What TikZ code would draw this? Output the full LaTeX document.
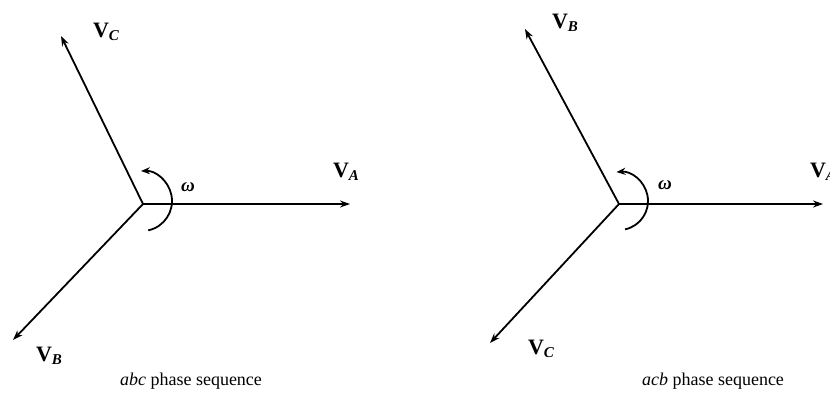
\documentclass[tikz,border=0pt]{standalone}
\usepackage{fontspec}
\setmainfont{Liberation Serif}
\usetikzlibrary{arrows.meta}
\tikzset{
  phasor/.style={line width=1.8pt,-{Stealth[length=10pt,width=7pt]}},
  rot/.style={line width=1.8pt,-{Stealth[length=9pt,width=7pt]}},
  vlab/.style={font=\fontsize{22}{24}\selectfont\bfseries, inner sep=0pt},
  wlab/.style={font=\fontsize{19}{20}\selectfont\bfseries\itshape, inner sep=0pt},
  captext/.style={font=\fontsize{18}{19}\selectfont, inner sep=0pt, anchor=base}
}
\newcommand{\phv}[1]{V\raisebox{-0.35ex}{\fontsize{15}{16}\selectfont\bfseries\itshape #1}}
\begin{document}
\begin{tikzpicture}[x=1pt,y=1pt]
\clip (0,0) rectangle (830,392);
\fill[white] (0,0) rectangle (830,392);
% left diagram
\coordinate (O1) at (143,188);
\coordinate (A1) at (350,188);
\coordinate (C1) at (61,356);
\coordinate (B1) at (13,52);
\draw[phasor] (O1) -- (A1);
\draw[phasor] (O1) -- (C1);
\draw[phasor] (O1) -- (B1);
\coordinate (R1) at (142,191);
\draw[rot] ([shift={(-78:30)}]R1) arc[start angle=-78, end angle=92, radius=30];
\node[vlab] (lA1) at (346,220) {\phv{A}};
\node[vlab] (lC1) at (106,360) {\phv{C}};
\node[vlab] (lB1) at (49,36) {\phv{B}};
\node[wlab] (w1) at (188,205) {ω};
\node[captext] (cap1) at (191,7) {\textit{abc} phase sequence};
% right diagram
\coordinate (O2) at (619,188);
\coordinate (A2) at (823,188);
\coordinate (B2) at (525,363);
\coordinate (C2) at (490,49);
\draw[phasor] (O2) -- (A2);
\draw[phasor] (O2) -- (B2);
\draw[phasor] (O2) -- (C2);
\coordinate (R2) at (619,191);
\draw[rot] ([shift={(-78:29)}]R2) arc[start angle=-78, end angle=95, radius=29];
\node[vlab] (lA2) at (823,220) {\phv{A}};
\node[vlab] (lB2) at (565,369) {\phv{B}};
\node[vlab] (lC2) at (541,43) {\phv{C}};
\node[wlab] (w2) at (665,207) {ω};
\node[captext] (cap2) at (713,7) {\textit{acb} phase sequence};
\end{tikzpicture}
\end{document}
